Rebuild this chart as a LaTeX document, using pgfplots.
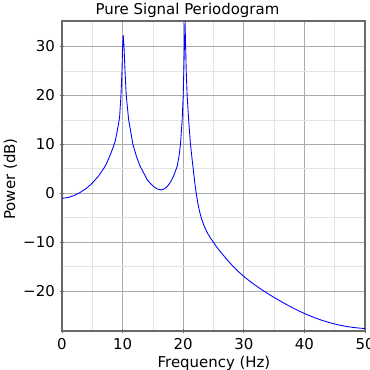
\documentclass[border=0pt]{standalone}
\usepackage{pgfplots}
\pgfplotsset{compat=1.18}
\usepackage{fontspec}
\setmainfont{DejaVu Sans}
\definecolor{axgray}{RGB}{105,105,105}
\definecolor{majgrid}{RGB}{170,170,170}
\definecolor{mingrid}{RGB}{228,228,228}
\begin{document}
\fontsize{11.2}{13.4}\selectfont
\begin{tikzpicture}
\begin{axis}[
  at={(0,0)}, anchor=south west,
  scale only axis,
  width=227.25pt, height=232.5pt,
  xmin=0, xmax=50, ymin=-28.1, ymax=35.2,
  xtick={0,10,20,30,40,50},
  ytick={-20,-10,0,10,20,30},
  yticklabels={−20,−10,0,10,20,30},
  minor x tick num=1, minor y tick num=1,
  grid=both,
  major grid style={majgrid, line width=0.6pt},
  minor grid style={mingrid, line width=0.6pt},
  axis line style={axgray, line width=1.3pt},
  tick style={axgray, line width=0.6pt},
  major tick length=3pt, minor tick length=2pt,
  tick align=center,
  xtick pos=bottom, ytick pos=left,
  /pgf/number format/assume math mode=true,
  ticklabel style={font=\fontsize{11.2}{13.4}\selectfont},
]
\addplot[blue, line width=0.65pt] coordinates {
(0,-1.0) (1,-0.85) (2,-0.45) (3,0.2) (4,1.0) (5,2.1) (6,3.5) (7,5.3)
(7.5,6.5) (8,8.0) (8.5,9.6) (8.8,10.8) (9.1,12.6) (9.3,14.0) (9.5,15.5)
(9.73,20) (9.9,25) (10.0,30) (10.1,32.3) (10.23,30) (10.4,25) (10.6,20)
(11.0,15) (11.7,10) (12.3,7.5) (12.8,5.8) (13.3,4.6) (14.1,2.7) (15.0,1.5)
(15.7,0.9) (16.4,0.7) (17.0,1.0) (17.5,1.6) (18.0,2.5) (18.5,3.8) (19.0,5.5)
(19.3,7.5) (19.55,10) (19.83,15) (20.0,20) (20.1,25) (20.2,30) (20.3,35.2)
(20.4,30) (20.5,25) (20.65,20) (20.9,15) (21.2,10) (21.45,7.2) (21.65,5)
(21.9,2.3) (22.1,0.4) (22.4,-1.9) (22.7,-3.7) (23.0,-5.1) (23.5,-6.8)
(24.0,-8.1) (24.5,-9.1) (25,-10.0) (25.5,-10.9) (26,-11.7) (27,-13.2)
(28,-14.6) (29,-15.85) (30,-16.95) (31,-17.95) (32,-18.85) (33,-19.7) (34,-20.5)
(35,-21.25) (36,-21.97) (37,-22.67) (38,-23.33) (39,-23.95) (40,-24.52) (41,-25.05)
(42,-25.53) (43,-25.96) (44,-26.34) (45,-26.67) (46,-26.95) (47,-27.18) (48,-27.37)
(49,-27.5) (50,-27.6)
};
\end{axis}
\node[anchor=base] at (94.1pt,237.5pt) {Pure Signal Periodogram};
\node[anchor=base] at (114pt,-27pt) {Frequency (Hz)};
\node[anchor=base, rotate=90] at (-35.25pt,114pt) {Power (dB)};
\pgfresetboundingbox
\path[use as bounding box] (-46.5pt,-29.25pt) rectangle (231pt,248.25pt);
\end{tikzpicture}
\end{document}
